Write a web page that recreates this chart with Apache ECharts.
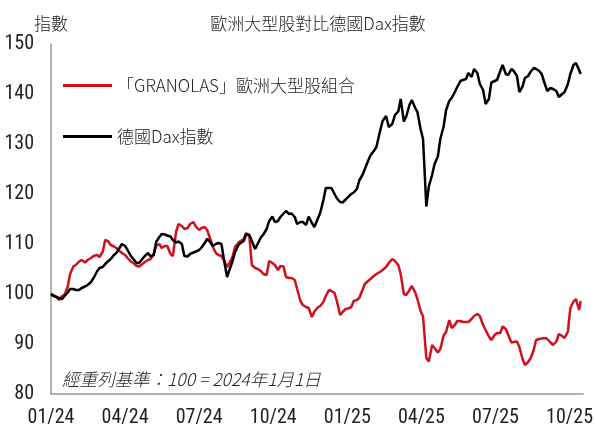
<!DOCTYPE html>
<html><head><meta charset="utf-8">
<script src="https://cdn.jsdelivr.net/npm/echarts@6/dist/echarts.min.js"></script>
<style>html,body{margin:0;padding:0;background:#fff}#c{width:596px;height:428px}</style>
</head><body><div id="c"></div>
<script>
const chartTitle = '歐洲大型股對比德國Dax指數';
const unitLabel = '指數';
const seriesNames = ['「GRANOLAS」歐洲大型股組合', '德國Dax指數'];
const noteText = '經重列基準：100 = 2024年1月1日';
const tickLabels = ['01/24','04/24','07/24','10/24','01/25','04/25','07/25','10/25'];
// observations: Monday and Thursday of each week from firstWeek, then lastDate
const firstWeek = '2024-01-01';
const weekCount = 94;
const lastDate = '2025-10-15';

const granolas = [
  100, 99.8, 99.4, 98.8, 99.6, 99.8, 101.5, 104, 105.5, 105.8,
  106.5, 106.8, 106.3, 106.8, 107.2, 107.6, 107.8, 107.4, 108.5, 110.8,
  110.5, 109.8, 109.5, 109.2, 108.6, 108.2, 107.8, 107.2, 106.5, 106.2,
  105.6, 105.5, 106, 106.4, 106.8, 107, 108, 109.6, 110, 109.2,
  109.6, 109.6, 108, 107.6, 112.5, 114, 113.6, 113, 113.2, 114,
  114.4, 113.5, 112.8, 113.2, 113.4, 112.8, 111, 109.5, 108.2, 107.8,
  107.6, 106.8, 105.4, 106.2, 107.5, 109.4, 110.2, 110.6, 111, 112.2,
  111.5, 105.8, 105.2, 105, 104.6, 104, 103.8, 106.6, 106.2, 105.8,
  104.8, 105.6, 105.5, 103.4, 103.2, 103.2, 102.8, 101, 98.6, 97.8,
  97.4, 97.2, 95.4, 96.5, 97.3, 97.6, 98.4, 99.6, 100.8, 100.6,
  100.2, 98.5, 95.8, 96.4, 97, 97.1, 97.4, 98.6, 98.8, 99.2,
  100.8, 102, 102.6, 103, 103.6, 104, 104.4, 104.8, 105.4, 106.2,
  107, 106.6, 105.8, 104, 100, 99.8, 100.8, 101.6, 100.4, 99,
  96.6, 95.5, 87.2, 86.5, 89.8, 89.2, 88.3, 89, 91.7, 92.4,
  94.8, 93.2, 93.8, 94.6, 94.6, 94.4, 94.4, 94.4, 95, 95.6,
  96, 95.6, 93.8, 92.8, 91.5, 90.8, 91.8, 92.2, 92.2, 93.5,
  93, 91.8, 90.3, 90.4, 90.5, 89.4, 87, 85.8, 86.4, 87.1,
  88.8, 90.8, 91, 91.1, 91.2, 91, 90.3, 89.8, 90.5, 92,
  91.6, 91.2, 92.5, 97.2, 98.5, 99, 96.8, 98.6
];
const dax = [
  100, 99.6, 99.4, 99.2, 99, 99.6, 100.3, 101, 101, 100.8,
  100.8, 101.2, 101.5, 101.8, 102.4, 103.2, 104.5, 105.2, 105.4, 106,
  106.6, 107, 107.8, 108.2, 109.2, 110, 109.6, 108.8, 107.6, 107,
  106.2, 106.2, 107, 107.6, 108.2, 107.5, 107.8, 110.4, 111.4, 112,
  111.9, 111.7, 111.5, 110.8, 110.3, 110.5, 110, 107.6, 107.5, 108,
  108.3, 108.5, 108.8, 109.3, 110.2, 111, 110.4, 109.6, 110, 110.2,
  110, 107, 103.4, 104.8, 106.6, 108.3, 109.7, 110.2, 110.6, 112,
  111.8, 110.6, 109, 110, 111.3, 111.9, 113, 114.6, 115.5, 114.4,
  114.6, 115.4, 116.1, 116.6, 116, 116.1, 115.4, 114, 114.4, 114.4,
  113.8, 115.5, 114.2, 113.4, 115, 116.2, 118.8, 121.2, 121.2, 121.2,
  120, 119.1, 118.4, 118.3, 118.9, 119.4, 120, 120.3, 121, 122.7,
  123.8, 125, 126.6, 127.7, 128.6, 129.4, 132.5, 134.6, 135.6, 133.4,
  134, 135.8, 136.5, 139, 134.5, 135.5, 137.8, 138.8, 137.3, 136.4,
  133, 131, 117.5, 121.5, 123.8, 126, 127.5, 131, 133.5, 136.8,
  138.6, 139.2, 140.4, 141.4, 142.6, 142.8, 143, 144.2, 143.4, 145,
  144.2, 142, 140.8, 138, 139, 142.3, 142.6, 142.8, 144.6, 145.8,
  144, 143.8, 145, 144.6, 143.6, 140.4, 141.5, 143.2, 143.6, 144.4,
  145.2, 145, 144.6, 144, 142, 140.6, 141.2, 141, 140.6, 139.4,
  140, 140.4, 142, 144, 145.8, 146.2, 144.8, 144
];

const dates = [];
{
  const day = 86400000;
  const t0 = Date.parse(firstWeek + 'T00:00:00Z');
  const tEnd = Date.parse(lastDate + 'T00:00:00Z');
  for (let k = 0; k < weekCount; k++) {
    const mon = t0 + k * 7 * day, thu = mon + 3 * day;
    if (mon < tEnd) dates.push(new Date(mon));
    if (thu < tEnd) dates.push(new Date(thu));
  }
  dates.push(new Date(tEnd));
}
// month index since Jan 2024 (fractional)
function monthIndex(d) {
  const y = d.getUTCFullYear(), m = d.getUTCMonth(), day = d.getUTCDate();
  const dim = new Date(Date.UTC(y, m + 1, 0)).getUTCDate();
  return (y - 2024) * 12 + m + (day - 1) / dim;
}
const xs = dates.map(monthIndex);
const toPairs = arr => arr.map((v, i) => [xs[i], v]);

const narrow = "'Liberation Sans Narrow', 'Arial Narrow', 'Roboto Condensed', Roboto, sans-serif";
const cjk = "'Noto Sans CJK TC', 'Noto Sans CJK SC', sans-serif";
const textColor = '#222';

const chart = echarts.init(document.getElementById('c'), null, {renderer: 'canvas'});
chart.setOption({
  backgroundColor: '#fff',
  animation: false,
  legend: [
    {
      data: [seriesNames[0]], left: 63, top: 77, icon: 'rect', padding: 0,
      itemWidth: 49, itemHeight: 3,
      textStyle: {fontFamily: cjk, fontSize: 17, fontWeight: 300, color: textColor}
    },
    {
      data: [seriesNames[1]], left: 63, top: 128, icon: 'rect', padding: 0,
      itemWidth: 49, itemHeight: 3,
      textStyle: {fontFamily: cjk, fontSize: 17, fontWeight: 300, color: textColor}
    }
  ],
  grid: {left: 51, right: 11, top: 44, bottom: 34, containLabel: false},
  xAxis: {
    type: 'value', min: 0, max: 21.55, interval: 3,
    axisLine: {show: true, lineStyle: {color: '#999', width: 1.5}},
    axisTick: {show: false},
    splitLine: {show: false},
    axisLabel: {
      fontFamily: narrow, fontSize: 20, color: textColor, margin: 14,
      formatter: v => tickLabels[Math.round(v / 3)] || ''
    }
  },
  yAxis: {
    type: 'value', min: 80, max: 150, interval: 10,
    axisLine: {show: true, lineStyle: {color: '#999', width: 1.5}},
    axisTick: {show: false},
    splitLine: {show: false},
    axisLabel: {fontFamily: narrow, fontSize: 20, color: textColor, align: 'right', margin: 17}
  },
  graphic: [
    {type: 'text', x: 318, y: 15,
     style: {text: chartTitle, font: "300 17px 'Noto Sans CJK TC'", fill: textColor, align: 'center'}},
    {type: 'text', x: 51, y: 15,
     style: {text: unitLabel, font: "300 17px 'Noto Sans CJK TC'", fill: textColor, align: 'center'}},
    {type: 'text', x: 62, y: 371,
     style: {text: noteText, font: "italic 300 17.5px 'Noto Sans CJK TC'", fill: textColor}}
  ],
  series: [
    {name: seriesNames[0], type: 'line', data: toPairs(granolas), showSymbol: false,
     lineStyle: {color: '#d0101e', width: 2.5}, itemStyle: {color: '#d0101e'}, z: 2},
    {name: seriesNames[1], type: 'line', data: toPairs(dax), showSymbol: false,
     lineStyle: {color: '#000', width: 2.5}, itemStyle: {color: '#000'}, z: 3}
  ]
});
</script></body></html>
